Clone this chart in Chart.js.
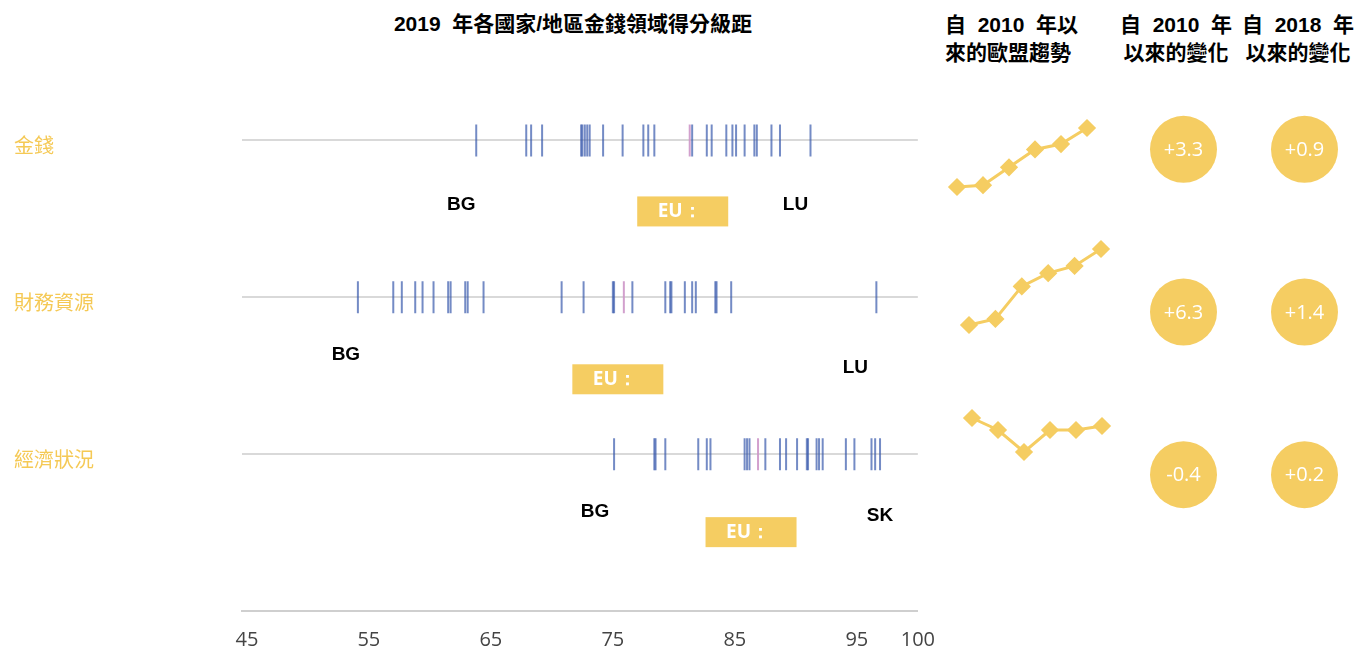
<!DOCTYPE html>
<html>
<head>
<meta charset="utf-8">
<script src="https://cdn.jsdelivr.net/npm/chart.js@4.4.0/dist/chart.umd.min.js"></script>
<style>
  body { margin: 0; background: #fff; width: 1365px; height: 651px; overflow: hidden; position: relative; }
  canvas { position: absolute; }
  .hd { position: absolute; font-family: "Liberation Sans", "Noto Sans CJK TC", sans-serif; font-weight: bold; color: #000; font-size: 21px; line-height: 28px; white-space: pre; }
</style>
</head>
<body>
<div class="hd" style="left:0; width:1146px; top:10px; text-align:center; font-size:21px;">2019  年各國家/地區金錢領域得分級距</div>
<div class="hd" style="left:945px; top:11px;">自  2010  年以<br>來的歐盟趨勢</div>
<div class="hd" style="left:1120px; top:11px; text-align:center;">自  2010  年<br>以來的變化</div>
<div class="hd" style="left:1242px; top:11px; text-align:center;">自  2018  年<br>以來的變化</div>

<canvas id="stripChart" width="952" height="651" style="left:0; top:0;"></canvas>
<canvas id="trend0" width="150" height="79" style="left:947px; top:118px;"></canvas>
<canvas id="trend1" width="152" height="96" style="left:959px; top:239px;"></canvas>
<canvas id="trend2" width="150" height="54" style="left:962px; top:408px;"></canvas>
<canvas id="changeChart" width="242" height="488" style="left:1123px; top:68px;"></canvas>

<script>
// rows (domains)
const rowNames = ['金錢', '財務資源', '經濟狀況'];

// 2019 country scores per row
const moneyScores = [63.8, 67.9, 68.3, 69.2, 72.4, 72.5, 72.7, 72.9, 73.1, 74.2, 75.8, 77.5, 77.9, 78.4,
  81.5, 82.7, 83.1, 84.3, 84.8, 85.1, 85.8, 86.6, 86.8, 88.0, 88.7, 91.2];
const financeScores = [54.1, 57.0, 57.7, 58.8, 59.4, 60.3, 61.5, 61.7, 62.9, 63.1, 64.4, 70.8, 72.6,
  75.0, 75.1, 76.6, 79.3, 79.7, 79.8, 80.9, 81.5, 81.8, 83.4, 83.5, 84.7, 96.6];
const economicScores = [75.1, 78.4, 78.5, 79.3, 82.0, 82.7, 83.0, 85.8, 86.0, 86.2, 87.5, 88.7, 89.2,
  90.1, 90.9, 91.0, 91.7, 91.9, 92.2, 94.1, 94.8, 96.2, 96.5, 96.9];
const euScores = [81.3, 75.9, 86.9];
const minCountry = ['BG', 'BG', 'BG'];
const maxCountry = ['LU', 'LU', 'SK'];

const xTicks = [45, 55, 65, 75, 85, 95, 100];

// EU trend since 2010
const trendYears = ['2010', '2012', '2015', '2017', '2018', '2019'];
const trendMoney = [78.0, 78.1, 79.1, 80.1, 80.4, 81.3];
const trendFinance = [69.6, 70.1, 72.8, 73.9, 74.5, 75.9];
const trendEconomic = [87.3, 86.7, 85.6, 86.7, 86.7, 86.9];

// changes
const changeCols = ['2010', '2018'];
const change2010 = [3.3, 6.3, -0.4];
const change2018 = [0.9, 1.4, 0.2];

const gold = '#f5cd62';
const allScores = [moneyScores, financeScores, economicScores];

// text under each strip: [dx, dy] for min, max label and EU box
const labelOffsets = [
  { min: [-15, 64], max: [-15, 64], eu: [-7, 56] },
  { min: [-12, 57], max: [-21, 70], eu: [-6, 67] },
  { min: [-19, 58], max: [0, 62], eu: [-7, 63] }
];

const stripLabels = {
  id: 'stripLabels',
  afterDatasetsDraw(chart) {
    const ctx = chart.ctx;
    const xs = chart.scales.x, ys = chart.scales.y;
    ctx.save();
    allScores.forEach((scores, i) => {
      const yRow = ys.getPixelForValue(i + 1);
      const off = labelOffsets[i];
      ctx.font = 'bold 19px "Liberation Sans", Arial, sans-serif';
      ctx.fillStyle = '#000';
      ctx.textAlign = 'center';
      ctx.textBaseline = 'middle';
      ctx.fillText(minCountry[i], xs.getPixelForValue(Math.min(...scores)) + off.min[0], yRow + off.min[1]);
      ctx.fillText(maxCountry[i], xs.getPixelForValue(Math.max(...scores)) + off.max[0], yRow + off.max[1]);
      const cx = xs.getPixelForValue(euScores[i]) + off.eu[0];
      const top = yRow + off.eu[1];
      ctx.fillStyle = gold;
      ctx.fillRect(cx - 45.5, top, 91, 30);
      ctx.fillStyle = '#fff';
      ctx.textAlign = 'left';
      ctx.font = 'bold 19px "Open Sans", sans-serif';
      ctx.fillText('EU：', cx - 25, top + 15);
    });
    ctx.restore();
  }
};

const stripCtx = document.getElementById('stripChart').getContext('2d');
new Chart(stripCtx, {
  type: 'scatter',
  data: {
    datasets: allScores.map((scores, i) => ({
      data: scores.map(v => ({ x: v, y: i + 1 })),
      pointStyle: 'line',
      rotation: 90,
      radius: 16,
      borderWidth: 2,
      borderColor: 'rgba(50, 84, 170, 0.68)'
    })).concat([{
      data: euScores.map((v, i) => ({ x: v, y: i + 1 })),
      pointStyle: 'line',
      rotation: 90,
      radius: 16,
      borderWidth: 2,
      borderColor: 'rgba(205, 150, 200, 0.9)'
    }])
  },
  options: {
    responsive: false,
    animation: false,
    events: [],
    layout: { padding: { left: 14, top: 62, right: 11, bottom: 0 } },
    plugins: { legend: { display: false }, tooltip: { enabled: false } },
    scales: {
      x: {
        type: 'linear',
        min: 44.6,
        max: 100,
        afterBuildTicks: s => { s.ticks = xTicks.map(v => ({ value: v })); },
        afterFit: s => { s.height = 40; },
        grid: { display: false, drawTicks: false },
        border: { color: '#cfcfcf', width: 2 },
        ticks: { font: { family: '"Open Sans"', size: 20 }, color: '#444', padding: 17, autoSkip: false, maxRotation: 0 }
      },
      y: {
        type: 'linear',
        min: 0.5,
        max: 4,
        reverse: true,
        afterBuildTicks: s => { s.ticks = rowNames.map((n, i) => ({ value: i + 1 })); },
        afterFit: s => { s.width = 228; },
        grid: { color: '#d9d9d9', lineWidth: 2, drawTicks: false },
        border: { display: false },
        ticks: {
          callback: v => rowNames[v - 1],
          font: { family: '"Noto Sans CJK TC"', size: 20 },
          color: '#f5c955',
          crossAlign: 'far',
          padding: 0,
          labelOffset: 5,
          autoSkip: false
        }
      }
    }
  },
  plugins: [stripLabels]
});

// sparklines
[trendMoney, trendFinance, trendEconomic].forEach((vals, i) => {
  const ctx = document.getElementById('trend' + i).getContext('2d');
  new Chart(ctx, {
    type: 'line',
    data: {
      labels: trendYears,
      datasets: [{
        data: vals,
        borderColor: gold,
        backgroundColor: gold,
        borderWidth: 3,
        pointStyle: 'rectRot',
        pointRadius: 7,
        tension: 0
      }]
    },
    options: {
      responsive: false,
      animation: false,
      events: [],
      layout: { padding: 10 },
      plugins: { legend: { display: false }, tooltip: { enabled: false } },
      scales: {
        x: { display: false },
        y: { display: false, bounds: 'data' }
      }
    }
  });
});

// change bubbles
const bubbleLabels = {
  id: 'bubbleLabels',
  afterDatasetsDraw(chart) {
    const ctx = chart.ctx;
    ctx.save();
    ctx.font = '20px "Open Sans", sans-serif';
    ctx.fillStyle = '#fff';
    ctx.textAlign = 'center';
    ctx.textBaseline = 'middle';
    chart.data.datasets.forEach((ds, di) => {
      chart.getDatasetMeta(di).data.forEach((pt, j) => {
        const v = ds.data[j].v;
        ctx.fillText((v > 0 ? '+' : '') + v.toFixed(1), pt.x, pt.y + 1);
      });
    });
    ctx.restore();
  }
};

const changeCtx = document.getElementById('changeChart').getContext('2d');
new Chart(changeCtx, {
  type: 'bubble',
  data: {
    datasets: [change2010, change2018].map((vals, c) => ({
      data: vals.map((v, i) => ({ x: changeCols[c], y: rowNames[i], r: 33.5, v: v })),
      backgroundColor: gold,
      borderWidth: 0,
      clip: false
    }))
  },
  options: {
    responsive: false,
    animation: false,
    events: [],
    layout: { padding: 0, autoPadding: false },
    plugins: { legend: { display: false }, tooltip: { enabled: false } },
    scales: {
      x: { type: 'category', labels: changeCols, offset: true, display: false },
      y: { type: 'category', labels: rowNames, offset: true, display: false }
    }
  },
  plugins: [bubbleLabels]
});
</script>
</body>
</html>
